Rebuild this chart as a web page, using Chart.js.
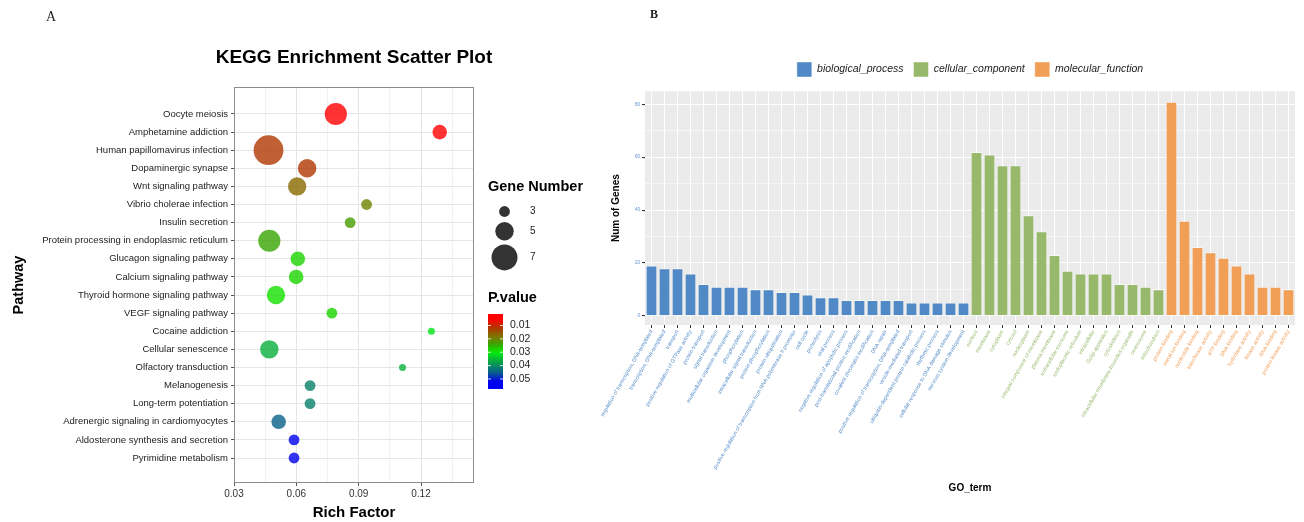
<!DOCTYPE html>
<html>
<head>
<meta charset="utf-8">
<script src="https://cdn.jsdelivr.net/npm/chart.js@4.4.1/dist/chart.umd.min.js"></script>
<style>
body { margin: 0; background: #fff; }
#wrap { position: relative; width: 1304px; height: 522px; }
#kegg { position: absolute; left: 0; top: 0; }
#go { position: absolute; left: 600px; top: 0; }
.tag { position: absolute; font-family: "Liberation Serif", "DejaVu Serif", serif; color: #222; line-height: 1; }
</style>
</head>
<body>
<div id="wrap">
  <canvas id="kegg" width="600" height="522"></canvas>
  <canvas id="go" width="704" height="522"></canvas>
  <div class="tag" style="left:46px;top:10px;font-size:14px;">A</div>
  <div class="tag" style="left:650px;top:8px;font-size:12px;font-weight:bold;">B</div>
</div>
<script>
// dados - painel A (KEGG)
const pathways = ['Oocyte meiosis', 'Amphetamine addiction', 'Human papillomavirus infection', 'Dopaminergic synapse',
  'Wnt signaling pathway', 'Vibrio cholerae infection', 'Insulin secretion', 'Protein processing in endoplasmic reticulum',
  'Glucagon signaling pathway', 'Calcium signaling pathway', 'Thyroid hormone signaling pathway', 'VEGF signaling pathway',
  'Cocaine addiction', 'Cellular senescence', 'Olfactory transduction', 'Melanogenesis', 'Long-term potentiation',
  'Adrenergic signaling in cardiomyocytes', 'Aldosterone synthesis and secretion', 'Pyrimidine metabolism'];
const richFactor = [0.079, 0.129, 0.0466, 0.0652, 0.0604, 0.0938, 0.0859, 0.047, 0.0607, 0.0599,
  0.0502, 0.0771, 0.125, 0.047, 0.1111, 0.0666, 0.0666, 0.0515, 0.0589, 0.0589];
const geneNumber = [6, 4, 8, 5, 5, 3, 3, 6, 4, 4, 5, 3, 2, 5, 2, 3, 3, 4, 3, 3];
const pValue = [0.005, 0.005, 0.012, 0.012, 0.017, 0.020, 0.023, 0.024, 0.028, 0.028,
  0.029, 0.028, 0.031, 0.036, 0.036, 0.041, 0.041, 0.045, 0.052, 0.052];
const richTicks = [0.03, 0.06, 0.09, 0.12];
const sizeKeys = [3, 5, 7];
const pKeys = [0.01, 0.02, 0.03, 0.04, 0.05];

// dados - painel B (GO)
const bpTerms = ['regulation of transcription, DNA-templated', 'transcription, DNA-templated', 'transport',
  'positive regulation of GTPase activity', 'protein transport', 'signal transduction', 'multicellular organism development',
  'phosphorylation', 'intracellular signal transduction', 'protein phosphorylation', 'protein ubiquitination',
  'positive regulation of transcription from RNA polymerase II promoter', 'cell cycle', 'proteolysis', 'viral process',
  'negative regulation of apoptotic process', 'post-translational protein modification', 'covalent chromatin modification',
  'DNA repair', 'positive regulation of transcription, DNA-templated', 'vesicle-mediated transport',
  'ubiquitin-dependent protein catabolic process', 'rhythmic process', 'cellular response to DNA damage stimulus',
  'nervous system development'];
const bpCounts = [19, 18, 18, 16, 12, 11, 11, 11, 10, 10, 9, 9, 8, 7, 7, 6, 6, 6, 6, 6, 5, 5, 5, 5, 5];
const ccTerms = ['nucleus', 'membrane', 'cytoplasm', 'cytosol', 'nucleoplasm', 'integral component of membrane',
  'plasma membrane', 'extracellular exosome', 'endoplasmic reticulum', 'intracellular', 'Golgi apparatus',
  'cytoskeleton', 'intracellular membrane-bounded organelle', 'centrosome', 'mitochondrion'];
const ccCounts = [62, 61, 57, 57, 38, 32, 23, 17, 16, 16, 16, 12, 12, 11, 10];
const mfTerms = ['protein binding', 'metal ion binding', 'nucleotide binding', 'transferase activity', 'ATP binding',
  'DNA binding', 'hydrolase activity', 'kinase activity', 'RNA binding', 'protein kinase activity'];
const mfCounts = [81, 36, 26, 24, 22, 19, 16, 11, 11, 10];
const ontologies = ['biological_process', 'cellular_component', 'molecular_function'];
const geneTicks = [0, 20, 40, 60, 80];

// estilo
const FONT = "'Liberation Sans', Arial, sans-serif";
Chart.defaults.font.family = FONT;
const goColours = ['#5089c6', '#98b96c', '#f19e56'];
const colourStops = [
  [0.005, [255, 0, 0]], [0.012, [175, 55, 0]], [0.017, [136, 106, 0]], [0.020, [111, 131, 0]],
  [0.024, [55, 165, 0]], [0.029, [20, 225, 0]], [0.031, [0, 230, 20]], [0.036, [10, 175, 60]],
  [0.041, [9, 129, 106]], [0.045, [9, 96, 136]], [0.052, [0, 0, 240]]
];

function pColour(p, a) {
  const s = colourStops;
  let c = s[s.length - 1][1];
  if (p <= s[0][0]) c = s[0][1];
  else {
    for (let i = 0; i < s.length - 1; i++) {
      if (p >= s[i][0] && p <= s[i + 1][0]) {
        const t = (p - s[i][0]) / (s[i + 1][0] - s[i][0]);
        c = s[i][1].map((v, k) => Math.round(v + (s[i + 1][1][k] - v) * t));
        break;
      }
    }
  }
  return 'rgba(' + c[0] + ',' + c[1] + ',' + c[2] + ',' + a + ')';
}

const radius = n => 1.9 * n - 0.3;
const isMajor = v => richTicks.some(t => Math.abs(t - v) < 1e-9);

// legenda e titulo do painel A
const keggExtras = {
  id: 'keggExtras',
  afterDraw(chart) {
    const ctx = chart.ctx;
    const a = chart.chartArea;
    ctx.save();
    ctx.strokeStyle = '#8c8c8c';
    ctx.lineWidth = 1;
    ctx.strokeRect(a.left + 0.5, a.top + 0.5, a.right - a.left - 1, a.bottom - a.top - 1);

    ctx.fillStyle = '#000';
    ctx.textBaseline = 'middle';
    ctx.textAlign = 'center';
    ctx.font = 'bold 19px ' + FONT;
    ctx.fillText('KEGG Enrichment Scatter Plot', (a.left + a.right) / 2, 58);

    // Gene Number
    ctx.textAlign = 'left';
    ctx.font = 'bold 14.5px ' + FONT;
    ctx.fillText('Gene Number', 488, 187);
    let y0 = 203;
    sizeKeys.forEach(n => {
      const r = radius(n);
      const h = Math.max(2 * r + 4, 17);
      const cy = y0 + h / 2;
      ctx.fillStyle = '#333';
      ctx.beginPath();
      ctx.arc(504.5, cy, r, 0, Math.PI * 2);
      ctx.fill();
      ctx.fillStyle = '#222';
      ctx.font = '10px ' + FONT;
      ctx.fillText(String(n), 530, cy);
      y0 += h;
    });

    // P.value
    ctx.fillStyle = '#000';
    ctx.font = 'bold 14.5px ' + FONT;
    ctx.fillText('P.value', 488, 298);
    const bx = 488, bw = 15, top = 314, bot = 389, pTop = 0.0014, pBot = 0.0575;
    const grad = ctx.createLinearGradient(0, top, 0, bot);
    for (let i = 0; i <= 40; i++) {
      grad.addColorStop(i / 40, pColour(pTop + (pBot - pTop) * i / 40, 1));
    }
    ctx.fillStyle = grad;
    ctx.fillRect(bx, top, bw, bot - top);
    ctx.font = '10.5px ' + FONT;
    pKeys.forEach(p => {
      const y = top + (p - pTop) / (pBot - pTop) * (bot - top);
      ctx.strokeStyle = 'rgba(255,255,255,0.8)';
      ctx.beginPath();
      ctx.moveTo(bx, y); ctx.lineTo(bx + 3, y);
      ctx.moveTo(bx + bw - 3, y); ctx.lineTo(bx + bw, y);
      ctx.stroke();
      ctx.fillStyle = '#222';
      ctx.fillText(p.toFixed(2), 510, y);
    });
    ctx.restore();
  }
};

new Chart(document.getElementById('kegg'), {
  type: 'bubble',
  data: {
    datasets: [{
      data: pathways.map((p, i) => ({ x: richFactor[i], y: i, r: radius(geneNumber[i]) })),
      backgroundColor: pValue.map(p => pColour(p, 0.8)),
      borderWidth: 0
    }]
  },
  options: {
    responsive: false,
    animation: false,
    events: [],
    layout: { padding: { top: 87, right: 126, left: 0, bottom: 0 } },
    plugins: { legend: { display: false }, tooltip: { enabled: false } },
    scales: {
      x: {
        type: 'linear',
        min: 0.03,
        max: 0.1455,
        afterBuildTicks: s => { s.ticks = richTicks.flatMap(v => [v, v + 0.015]).map(v => ({ value: v })); },
        afterFit: s => { s.height = 39; },
        ticks: {
          maxRotation: 0,
          padding: 2,
          color: '#333',
          font: { size: 10 },
          callback: v => isMajor(v) ? v.toFixed(2) : ''
        },
        grid: {
          color: c => isMajor(c.tick.value) ? '#e4e4e4' : '#f1f1f1',
          tickColor: c => isMajor(c.tick.value) ? '#555' : 'rgba(0,0,0,0)',
          tickLength: 3
        },
        border: { display: false },
        title: { display: true, text: 'Rich Factor', color: '#000', font: { size: 15, weight: 'bold' }, padding: { top: 0, bottom: 0 } }
      },
      y: {
        type: 'linear',
        min: -1.49,
        max: 20.38,
        reverse: true,
        afterBuildTicks: s => { s.ticks = pathways.map((p, i) => ({ value: i })); },
        afterFit: s => { s.width = 234; },
        ticks: {
          autoSkip: false,
          padding: 3,
          color: '#1a1a1a',
          font: { size: 9.5 },
          callback: v => pathways[v]
        },
        grid: { color: '#e6e6e6', tickColor: '#555', tickLength: 3 },
        border: { display: false },
        title: { display: true, text: 'Pathway', color: '#000', font: { size: 14.5, weight: 'bold' }, padding: { top: 10, bottom: 0 } }
      }
    }
  },
  plugins: [keggExtras]
});

// painel B (GO)
const terms = bpTerms.concat(ccTerms, mfTerms);
const groups = [bpCounts, ccCounts, mfCounts];
const termColour = [];
let start = 0;
const goDatasets = groups.map((counts, g) => {
  const data = terms.map(() => null);
  counts.forEach((v, k) => { data[start + k] = v; termColour[start + k] = goColours[g]; });
  start += counts.length;
  return {
    label: ontologies[g],
    data: data,
    backgroundColor: goColours[g],
    borderColor: 'rgba(255,255,255,0.45)',
    borderWidth: 1,
    grouped: false,
    barPercentage: 0.9,
    categoryPercentage: 1
  };
});

const panelBg = {
  id: 'panelBg',
  beforeDraw(chart) {
    const a = chart.chartArea;
    chart.ctx.save();
    chart.ctx.fillStyle = '#ebebeb';
    chart.ctx.fillRect(a.left, a.top, a.right - a.left, a.bottom - a.top);
    chart.ctx.restore();
  }
};

new Chart(document.getElementById('go'), {
  type: 'bar',
  data: { labels: terms, datasets: goDatasets },
  options: {
    responsive: false,
    animation: false,
    events: [],
    layout: { padding: { top: 52, right: 9, left: 0, bottom: 28 } },
    plugins: {
      legend: {
        position: 'top',
        fullSize: false,
        labels: { boxWidth: 15, boxHeight: 15, padding: 10, color: '#222', font: { size: 10.5, style: 'italic' } }
      },
      subtitle: { display: true, text: ' ', weight: 500, font: { size: 1 }, padding: { top: 0, bottom: 3 } },
      tooltip: { enabled: false }
    },
    scales: {
      x: {
        type: 'category',
        offset: true,
        afterFit: s => { s.height = 169; },
        ticks: {
          autoSkip: false,
          minRotation: 60,
          maxRotation: 60,
          padding: 1,
          font: { size: 5.3 },
          color: c => termColour[c.index]
        },
        grid: { offset: false, color: '#fff', lineWidth: 1, tickColor: '#333', tickLength: 3 },
        border: { display: false },
        title: { display: true, text: 'GO_term', color: '#000', font: { size: 10, weight: 'bold' }, padding: { top: 0, bottom: 0 } }
      },
      y: {
        type: 'linear',
        min: -3.5,
        max: 85,
        afterBuildTicks: s => { s.ticks = geneTicks.flatMap(v => [v, v + 10]).filter(v => v <= 85).map(v => ({ value: v })); },
        afterFit: s => { s.width = 45; },
        ticks: {
          padding: 2,
          color: '#5b8ec9',
          font: { size: 4.5 },
          callback: v => geneTicks.includes(v) ? v : ''
        },
        grid: {
          color: '#fff',
          lineWidth: c => geneTicks.includes(c.tick.value) ? 1.1 : 0.55,
          tickColor: c => geneTicks.includes(c.tick.value) ? '#333' : 'rgba(0,0,0,0)',
          tickLength: 3
        },
        border: { display: false },
        title: { display: true, text: 'Num of Genes', color: '#000', font: { size: 10, weight: 'bold' }, padding: { top: 10, bottom: 0 } }
      }
    }
  },
  plugins: [panelBg]
});
</script>
</body>
</html>
